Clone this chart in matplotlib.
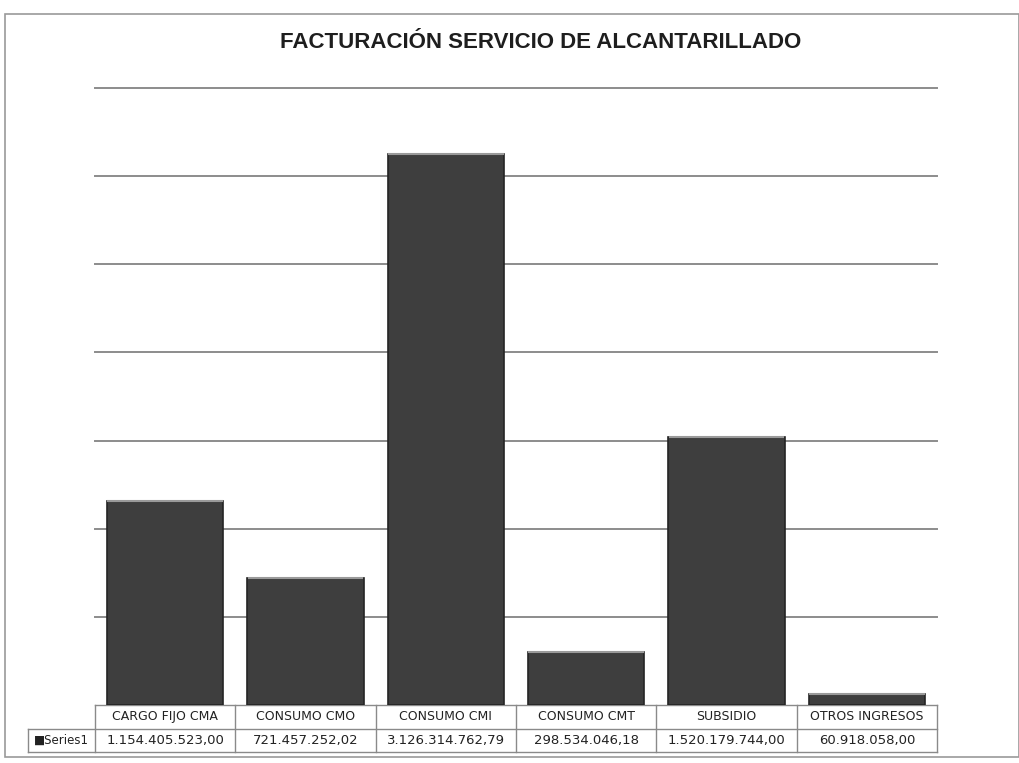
import matplotlib.pyplot as plt
import matplotlib.transforms as mtransforms
from matplotlib.patches import Rectangle
from matplotlib.lines import Line2D

# Chart data
categories = ["CARGO FIJO CMA", "CONSUMO CMO", "CONSUMO CMI",
              "CONSUMO CMT", "SUBSIDIO", "OTROS INGRESOS"]
values = [1154405523.00, 721457252.02, 3126314762.79,
          298534046.18, 1520179744.00, 60918058.00]
value_labels = ["1.154.405.523,00", "721.457.252,02", "3.126.314.762,79",
                "298.534.046,18", "1.520.179.744,00", "60.918.058,00"]
series_name = "Series1"
title = "FACTURACIÓN SERVICIO DE ALCANTARILLADO"

W, H = 1019, 763
fig = plt.figure(figsize=(W / 100, H / 100), dpi=100)
fig.patch.set_facecolor("white")

# outer chart border
fig.patches.append(Rectangle((5 / W, 1 - 757 / H), 1014 / W, 743 / H,
                             transform=fig.transFigure, fill=False,
                             edgecolor="#9a9a9a", linewidth=1.2))

ax = fig.add_axes([95 / W, 1 - 705 / H, 842 / W, 617 / H])
x = list(range(len(categories)))
bars = ax.bar(x, values, width=0.83, color="#3e3e3e", edgecolor="#242424",
              linewidth=1.2, zorder=3)
# light rim along the top of each bar, like the Excel bevel
for b in bars:
    ax.plot([b.get_x() + 0.01, b.get_x() + b.get_width() - 0.01],
            [b.get_height()] * 2, color="#9a9a9a", linewidth=1.5, zorder=4)
ax.set_xlim(-0.5, len(categories) - 0.5)
ax.set_ylim(0, 3.5e9)
ax.set_yticks([i * 0.5e9 for i in range(1, 8)])
ax.grid(axis="y", color="#8c8c8c", linewidth=1.4, zorder=0)
for gl in ax.get_ygridlines():
    gl.set_clip_on(False)
ax.tick_params(axis="y", length=0, labelleft=False)
ax.set_xticks([])
for s in ax.spines.values():
    s.set_visible(False)

fig.text(541 / W, 1 - 43 / H, title, ha="center", va="center",
         fontsize=16, fontweight="bold", family="Liberation Sans",
         color="#1e1e1e")

# data table under the bars
tr = mtransforms.blended_transform_factory(ax.transData, ax.transAxes)
row_h = 23.5 / 617
y0, y1, y2 = 0, -row_h, -2 * row_h
left_lab = -0.5 - 67 / (842 / len(categories))
grid_kw = dict(color="#8a8a8a", linewidth=1.0, transform=tr, clip_on=False)
right = len(categories) - 0.5

ax.add_line(Line2D([-0.5, right], [y0, y0], **grid_kw))
ax.add_line(Line2D([left_lab, right], [y1, y1], **grid_kw))
ax.add_line(Line2D([left_lab, right], [y2, y2], **grid_kw))
ax.add_line(Line2D([left_lab, left_lab], [y1, y2], **grid_kw))
for i in range(len(categories) + 1):
    ax.add_line(Line2D([i - 0.5, i - 0.5], [y0, y2], **grid_kw))

for i, (cat, lab) in enumerate(zip(categories, value_labels)):
    ax.text(i, (y0 + y1) / 2, cat, transform=tr, ha="center", va="center",
            fontsize=9, color="#222222")
    ax.text(i, (y1 + y2) / 2, lab, transform=tr, ha="center", va="center",
            fontsize=9.5, color="#222222")

ax.text((left_lab - 0.5) / 2, (y1 + y2) / 2, "■" + series_name, transform=tr,
        ha="center", va="center", fontsize=8.5, color="#222222")

fig.savefig("out.png", dpi=100)
